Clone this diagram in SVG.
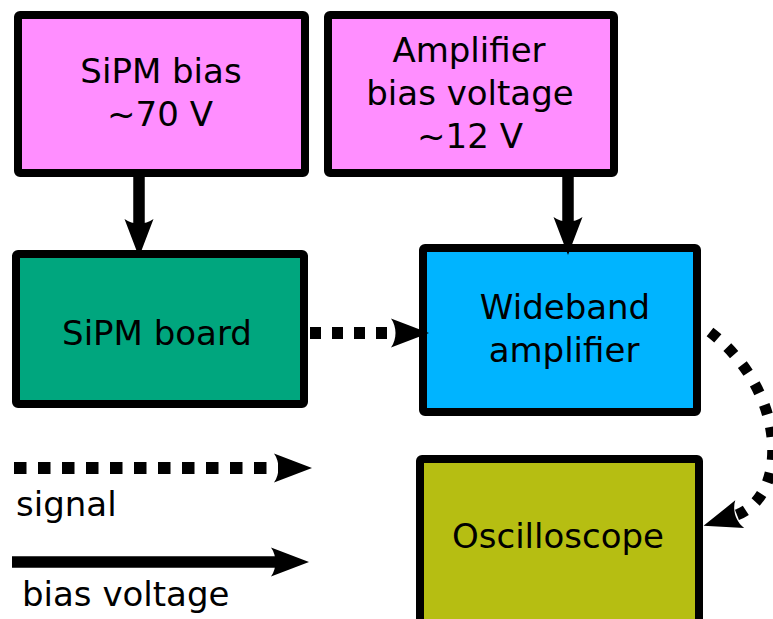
<svg xmlns="http://www.w3.org/2000/svg" width="773" height="619" viewBox="0 0 773 619">
<style>
.box{stroke:#000;stroke-width:8;stroke-linejoin:round}
.t{font-family:"DejaVu Sans",sans-serif;font-size:34px;fill:#000;text-anchor:middle}
.l{font-family:"DejaVu Sans",sans-serif;font-size:34px;fill:#000}
.solid{fill:none;stroke:#000;stroke-width:11.5}
.dot{fill:none;stroke:#000;stroke-width:12;stroke-dasharray:11,11}
</style>
<defs>
<marker id="ah" markerUnits="userSpaceOnUse" markerWidth="40" markerHeight="32" viewBox="0 -16 40 32" refX="6" refY="0" orient="auto" overflow="visible">
<path d="M38,0 L0,-14.5 C6,-6 6,6 0,14.5 Z" fill="#000"/>
</marker>
</defs>
<g id="sipm-bias"><rect class="box" x="18" y="15" width="287" height="158" rx="2" fill="#ff8eff"/><text class="t" x="161" y="83">SiPM bias</text><text class="t" x="160" y="126">~70 V</text></g>
<g id="amp-bias"><rect class="box" x="328" y="15" width="286" height="158" rx="2" fill="#ff8eff"/><text class="t" x="469" y="62">Amplifier</text><text class="t" x="470" y="105">bias voltage</text><text class="t" x="470" y="148">~12 V</text></g>
<g id="sipm-board"><rect class="box" x="16" y="254" width="288" height="150" rx="2" fill="#00a67e"/><text class="t" x="157" y="345">SiPM board</text></g>
<g id="wideband"><rect class="box" x="423" y="248" width="274" height="164" rx="2" fill="#00b4ff"/><text class="t" x="565" y="319">Wideband</text><text class="t" x="564" y="362">amplifier</text></g>
<g id="oscilloscope"><rect class="box" x="420" y="459" width="279" height="170" rx="2" fill="#b6be12"/><text class="t" x="558" y="548">Oscilloscope</text></g>
<g id="connectors">
<line class="solid" x1="139" y1="177" x2="139" y2="225" marker-end="url(#ah)"/>
<line class="solid" x1="568" y1="177" x2="568" y2="223" marker-end="url(#ah)"/>
<line class="dot" x1="310" y1="333" x2="397" y2="333" marker-end="url(#ah)"/>
<path class="dot" d="M710,332 C788,392 790,498 734,516" style="stroke-width:11;stroke-dasharray:10,13" marker-end="url(#ah)"/>
</g>
<g id="legend">
<line class="dot" x1="14" y1="468" x2="280" y2="468" style="stroke-dasharray:12.5,11.5" marker-end="url(#ah)"/>
<text class="l" x="16" y="516">signal</text>
<line class="solid" x1="12" y1="562" x2="277" y2="562" marker-end="url(#ah)"/>
<text class="l" x="22" y="606">bias voltage</text>
</g>
</svg>
